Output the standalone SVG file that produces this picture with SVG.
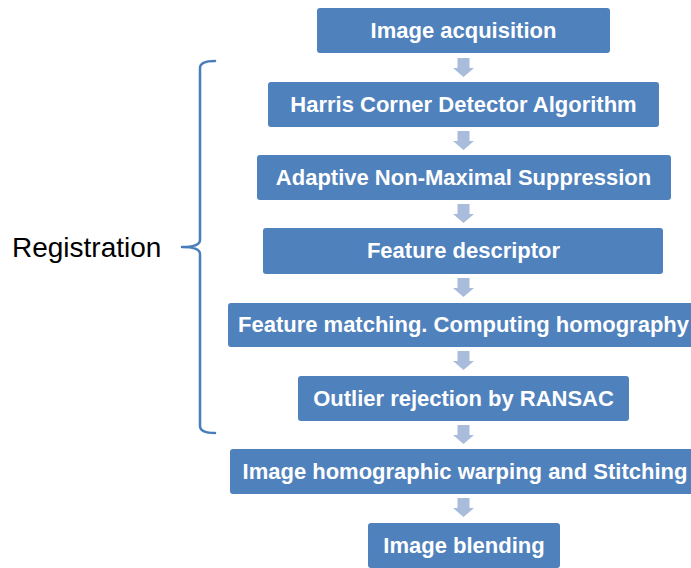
<svg xmlns="http://www.w3.org/2000/svg" width="691" height="568" viewBox="0 0 691 568">
  <style>
    .box { fill: #4f81bd; }
    .lbl { fill: #ffffff; font-family: "Liberation Sans", Arial, sans-serif; font-weight: bold; font-size: 22px; text-anchor: middle; }
    .arrow { fill: #a9bcdb; }
    .brace { fill: none; stroke: #4a7ebb; stroke-width: 2.5; stroke-linecap: round; stroke-linejoin: round; }
    .side { fill: #000000; font-family: "Liberation Sans", Arial, sans-serif; font-size: 28px; }
  </style>
  <defs>
    <path id="down" d="M-6,0 H6 V10 H10.5 L0,19 L-10.5,10 H-6 Z"/>
  </defs>
  <rect width="691" height="568" fill="#ffffff"/>

  <g id="connectors">
    <use href="#down" class="arrow" x="463.5" y="58"/>
    <use href="#down" class="arrow" x="463.5" y="131"/>
    <use href="#down" class="arrow" x="463.5" y="204"/>
    <use href="#down" class="arrow" x="463.5" y="278"/>
    <use href="#down" class="arrow" x="463.5" y="351"/>
    <use href="#down" class="arrow" x="463.5" y="425"/>
    <use href="#down" class="arrow" x="463.5" y="498"/>
  </g>

  <g id="n1"><rect class="box" x="317" y="8" width="293" height="45" rx="3"/><text class="lbl" x="463.5" y="38">Image acquisition</text></g>
  <g id="n2"><rect class="box" x="268" y="82" width="391" height="45" rx="3"/><text class="lbl" x="463.5" y="112">Harris Corner Detector Algorithm</text></g>
  <g id="n3"><rect class="box" x="257" y="155" width="414" height="45" rx="3"/><text class="lbl" x="463.5" y="185">Adaptive Non-Maximal Suppression</text></g>
  <g id="n4"><rect class="box" x="263" y="228" width="400" height="46" rx="3"/><text class="lbl" x="463.5" y="258">Feature descriptor</text></g>
  <g id="n5"><rect class="box" x="228" y="303" width="470" height="44" rx="3"/><text class="lbl" x="463.5" y="332">Feature matching. Computing homography</text></g>
  <g id="n6"><rect class="box" x="298" y="376" width="331" height="45" rx="3"/><text class="lbl" x="463.5" y="406">Outlier rejection by RANSAC</text></g>
  <g id="n7"><rect class="box" x="230" y="449" width="468" height="45" rx="3"/><text class="lbl" x="465" y="479">Image homographic warping and Stitching</text></g>
  <g id="n8"><rect class="box" x="368" y="523" width="192" height="45" rx="3"/><text class="lbl" x="464" y="553">Image blending</text></g>

  <g id="registration">
    <path class="brace" d="M215,61 Q200,61 200,68 L200,240 Q200,247 182,247 Q200,247 200,254 L200,426 Q200,433 215,433"/>
    <text class="side" x="12" y="257">Registration</text>
  </g>
</svg>
